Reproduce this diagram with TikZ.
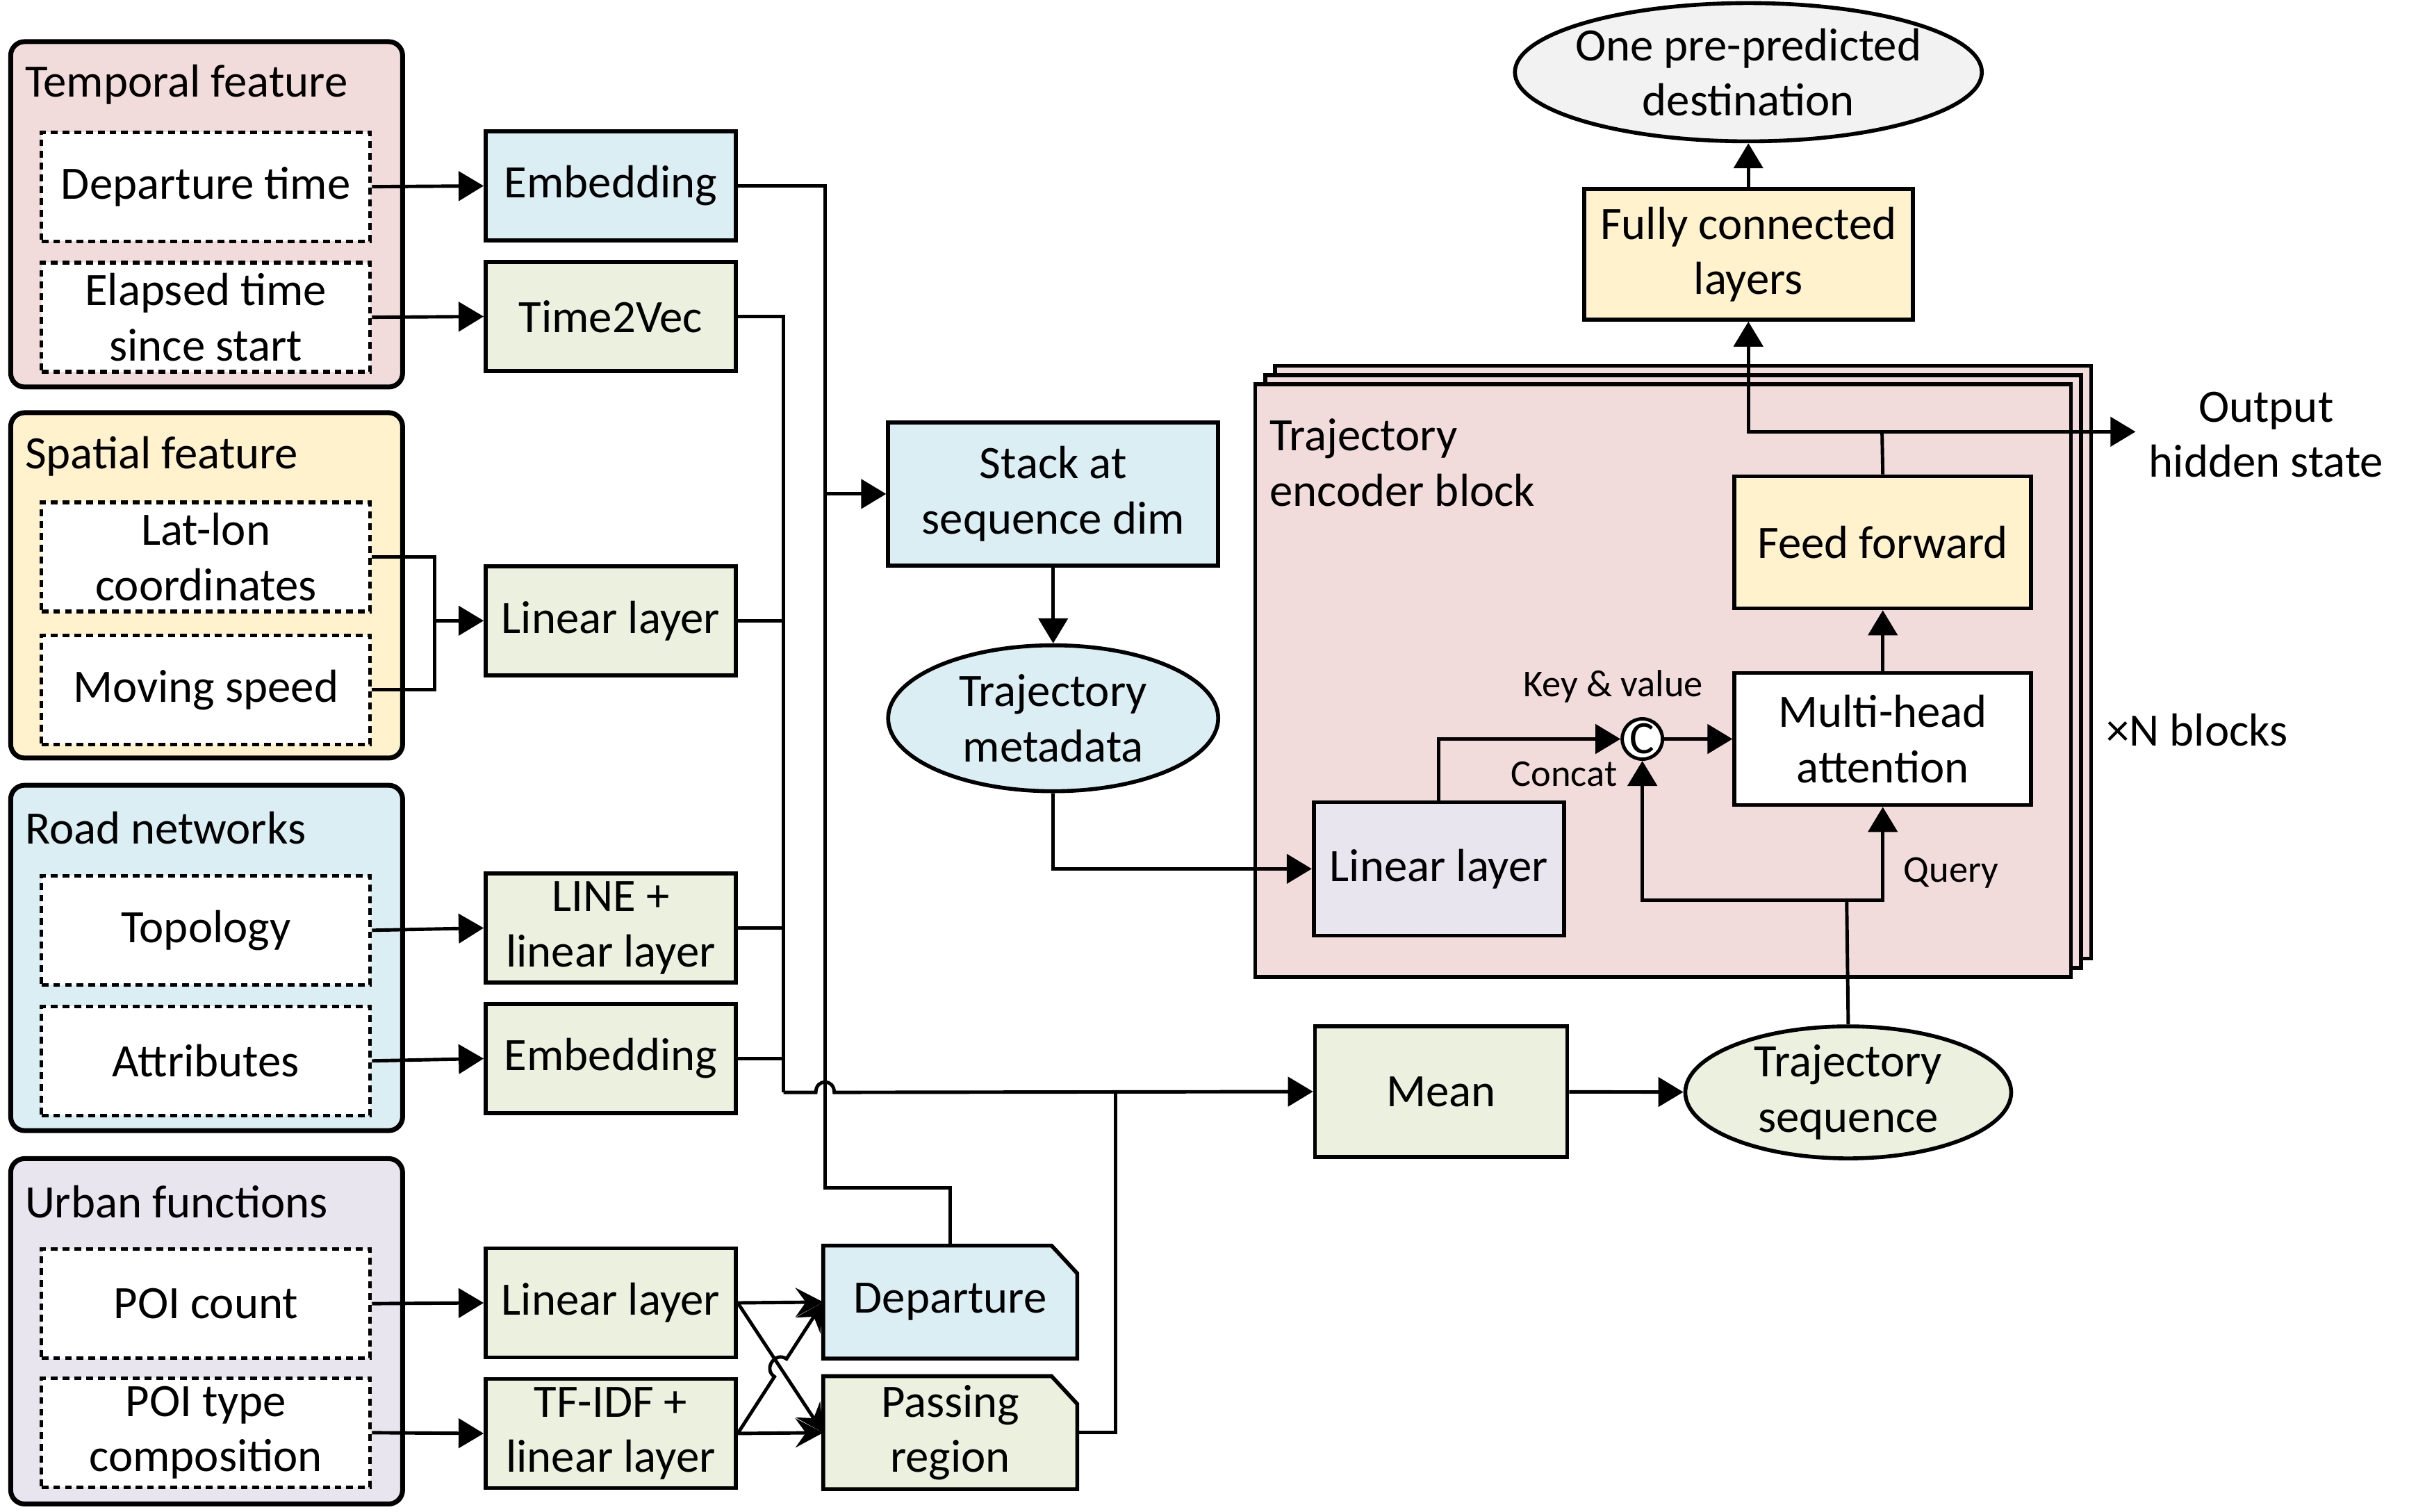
\documentclass[tikz,border=0pt]{standalone}
\usepackage{fontspec}
\setmainfont{Carlito}
\usepackage{tikz}
\usetikzlibrary{positioning}
\usetikzlibrary{arrows.meta}
\usetikzlibrary{shapes.geometric,backgrounds}

\definecolor{pinkbg}{HTML}{F2DCDB}
\definecolor{yelbg}{HTML}{FFF2CC}
\definecolor{bluebg}{HTML}{DAEEF3}
\definecolor{lavbg}{HTML}{E9E5EE}
\definecolor{grnbg}{HTML}{EBF1DE}
\definecolor{graybg}{HTML}{F2F2F2}

\newcommand{\figfont}{\fontsize{19}{22.6}\selectfont}
\newcommand{\labfont}{\fontsize{15.5}{18}\selectfont}

\begin{document}
\begin{tikzpicture}[x=0.02211cm, y=-0.02211cm, font=\figfont,
  featgroup/.style={draw, line width=2pt, rounded corners=0.2cm, minimum width=5.64cm, minimum height=4.97cm, inner sep=0},
  feat/.style={draw, line width=1.5pt, dash pattern=on 2.8pt off 2pt, fill=white, minimum width=4.73cm, minimum height=1.57cm, inner sep=0, align=center},
  box/.style={draw, line width=1.6pt, minimum width=3.6cm, minimum height=1.57cm, inner sep=0, align=center},
  snip/.style={box, draw=none},
  snipline/.style={line width=1.6pt},
  oval/.style={draw, line width=1.6pt, ellipse, inner xsep=-0.5cm, inner ysep=-0.3cm, align=center},
  blk/.style={draw, line width=1.6pt, fill=pinkbg, minimum width=11.74cm, minimum height=8.53cm, inner sep=0},
  arr/.style={line width=1.4pt, -{Triangle[length=0.36cm, width=0.42cm]}},
  arrx/.style={line width=1.4pt, -{Stealth[length=0.4cm, width=0.42cm, inset=0.15cm]}},
  wire/.style={line width=1.4pt},
  lab/.style={font=\labfont, inner sep=0}
]
\useasboundingbox (0,0) rectangle (1568,984);

% input feature groups
\node[featgroup, fill=pinkbg] (gtime) at (134.5,139.5) {};
\node[featgroup, fill=yelbg] (gspace) at (134.5,381) {};
\node[featgroup, fill=bluebg] (groad) at (134.5,623.5) {};
\node[featgroup, fill=lavbg] (gurban) at (134.5,866.5) {};

\node[anchor=west, inner sep=0] (ttime) at (16,55) {Temporal feature};
\node[anchor=west, inner sep=0] (tspace) at (16,297) {Spatial feature};
\node[anchor=west, inner sep=0] (troad) at (16,539) {Road networks};
\node[anchor=west, inner sep=0] (turban) at (16,782) {Urban functions};

\node[feat] (fdep) at (134,121.5) {Departure time};
\node[feat] (felap) at (134,206.5) {Elapsed time\\since start};
\node[feat] (fll) at (134,362.5) {Lat-lon\\coordinates};
\node[feat] (fspd) at (134,449) {Moving speed};
\node[feat] (ftopo) at (134,605.5) {Topology};
\node[feat] (fattr) at (134,690.5) {Attributes};
\node[feat] (fpoic) at (134,848.5) {POI count};
\node[feat] (fpoit) at (134,932.5) {POI type\\composition};

% encoders
\node[box, fill=bluebg] (emb1) at (397.5,121) {Embedding};
\node[box, fill=grnbg] (t2v) at (397.5,206) {Time2Vec};
\node[box, fill=grnbg] (lin1) at (397.5,404) {Linear layer};
\node[box, fill=grnbg] (line) at (397.5,604) {LINE +\\linear layer};
\node[box, fill=grnbg] (emb2) at (397.5,689) {Embedding};
\node[box, fill=grnbg] (lin2) at (397.5,848) {Linear layer};
\node[box, fill=grnbg] (tfidf) at (397.5,933) {TF-IDF +\\linear layer};

\node[snip] (pdep) at (618.5,847.5) {Departure};
\node[snip] (ppass) at (618.5,932.5) {Passing\\region};
\begin{scope}[on background layer]
\draw[snipline, fill=bluebg] (pdep.south west) -- (pdep.north west) -- ([xshift=-0.37cm]pdep.north east) -- ([yshift=-0.4cm]pdep.north east) -- (pdep.south east) -- cycle;
\draw[snipline, fill=grnbg] (ppass.south west) -- (ppass.north west) -- ([xshift=-0.37cm]ppass.north east) -- ([yshift=-0.4cm]ppass.north east) -- (ppass.south east) -- cycle;
\end{scope}

\node[box, fill=bluebg, minimum width=4.75cm, minimum height=2.06cm] (stack) at (685.5,321.5) {Stack at\\sequence dim};
\node[oval, fill=bluebg, minimum width=4.75cm, minimum height=2.1cm] (meta) at (685.5,467.5) {Trajectory\\metadata};

% encoder blocks
\node[blk] (blk3) at (1095.5,431) {};
\node[blk] (blk2) at (1089,437) {};
\node[blk] (blk1) at (1082.5,443) {};
\node[anchor=west, align=left, inner sep=0] (tblk) at (826,301) {Trajectory\\encoder block};

\node[box, fill=lavbg, minimum height=1.92cm] (lin3) at (936.5,565.5) {Linear layer};
\node[draw, circle, line width=1.4pt, fill=white, minimum size=0.58cm, inner sep=0] (cat) at (1069,481) {C};
\node[box, fill=white, minimum width=4.27cm, minimum height=1.9cm] (mha) at (1225.5,481) {Multi-head\\attention};
\node[box, fill=yelbg, minimum width=4.27cm, minimum height=1.9cm] (ff) at (1225.5,353) {Feed forward};

\node[lab] (lkv) at (1050,447) {Key \& value};
\node[lab] (lcat) at (1018,504) {Concat};
\node[lab] (lq) at (1270,568) {Query};
\node[inner sep=0] (nblk) at (1430,475) {×N blocks};

\node[box, fill=yelbg, minimum width=4.73cm, minimum height=1.88cm] (fc) at (1138,165.5) {Fully connected\\layers};
\node[oval, fill=graybg, minimum width=6.72cm, minimum height=1.99cm] (dest) at (1138,47) {One pre-predicted\\destination};
\node[inner sep=0, align=center] (outh) at (1475,283) {Output\\hidden state};

\node[box, fill=grnbg, minimum width=3.63cm, minimum height=1.88cm] (mean) at (938,710.5) {Mean};
\node[oval, fill=grnbg, minimum width=4.69cm, minimum height=1.9cm] (tseq) at (1203,711) {Trajectory\\sequence};

% junction points
\coordinate (jsp) at (283,404);
\coordinate (va) at (510,711);
\coordinate (vb) at (537,773);
\coordinate (vc) at (726,711);
\coordinate (qj) at (1202,586);
\coordinate (oj) at (1225,281);
\coordinate (oend) at (1390,281);

% feature arrows
\draw[arr] (fdep.east) -- (emb1.west);
\draw[arr] (felap.east) -- (t2v.west);
\draw[wire] (fll.east) -| (jsp);
\draw[wire] (fspd.east) -| (jsp);
\draw[arr] (jsp) -- (lin1.west);
\draw[arr] (ftopo.east) -- (line.west);
\draw[arr] (fattr.east) -- (emb2.west);
\draw[arr] (fpoic.east) -- (lin2.west);
\draw[arr] (fpoit.east) -- (tfidf.west);

% crossing arrows
\draw[arrx] (lin2.east) -- (pdep.west);
\draw[arrx] (lin2.east) -- (ppass.west);
\draw[arrx] (tfidf.east) -- (ppass.west);
\draw[arrx] (tfidf.east) -- (504.07,896.04) .. controls (496.6,891.0) and (504.5,879.4) .. (511.93,884.46) -- (pdep.west);

% metadata path
\draw[wire] (emb1.east) -| (vb) -| (pdep.north);
\draw[arr] (stack.west -| vb) -- (stack.west);
\draw[arr] (stack) -- (meta);
\draw[arr] (meta.south) |- (lin3.west);

% sequence path
\draw[wire] (t2v.east) -| (va);
\draw[wire] (lin1.east) -- (lin1.east -| va);
\draw[wire] (line.east) -- (line.east -| va);
\draw[wire] (emb2.east) -- (emb2.east -| va);
\draw[wire] (ppass.east) -| (vc);
\draw[arr] (va) -- (531,711) .. controls (531,702) and (543,702) .. (543,711) -- (mean.west);
\draw[arr] (mean) -- (tseq);

% inside the block
\draw[arr] (lin3.north) |- (cat.west);
\draw[arr] (cat) -- (mha);
\draw[wire] (tseq.north) -- (qj);
\draw[arr] (qj) -| (cat.south);
\draw[arr] (qj) -| (mha.south);
\draw[arr] (mha) -- (ff);
\draw[wire] (ff.north) -- (oj);
\draw[arr] (oj) -| (fc.south);
\draw[arr] (oj) -- (oend);
\draw[arr] (fc) -- (dest);
\end{tikzpicture}
\end{document}
